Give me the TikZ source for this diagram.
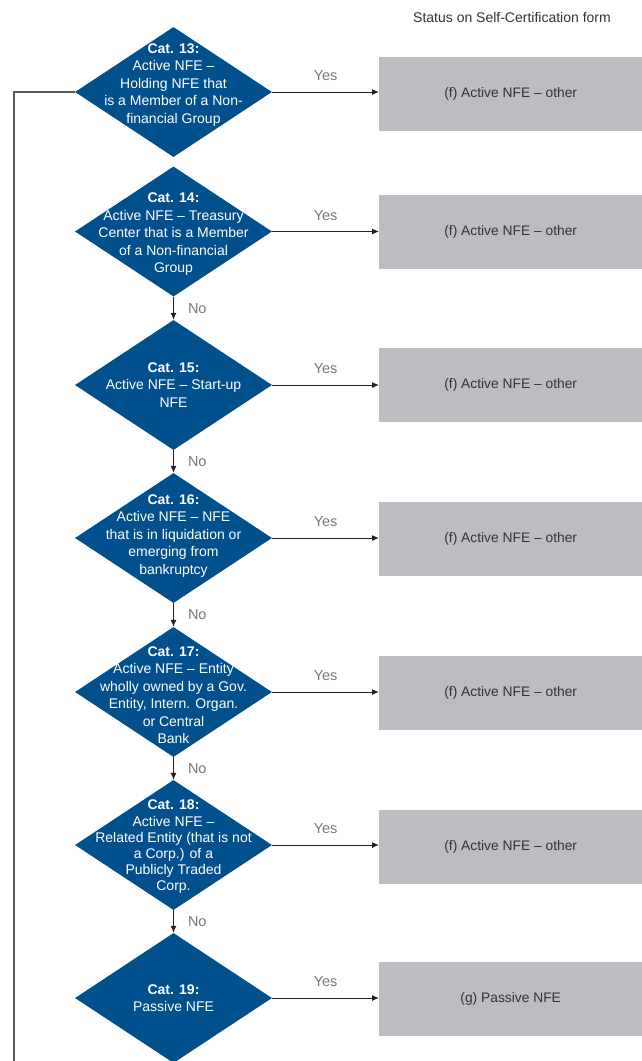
\documentclass[tikz,border=0pt]{standalone}
\usepackage{fontspec}
\setmainfont{Liberation Sans}
\usetikzlibrary{shapes.geometric,arrows.meta,calc}
\definecolor{nfeblue}{HTML}{00508E}
\definecolor{boxgray}{HTML}{BCBDC0}
\definecolor{boxtext}{HTML}{333333}
\definecolor{lblgray}{HTML}{77787B}
\definecolor{linedark}{HTML}{231F20}
\definecolor{linegray}{HTML}{58595B}
\tikzset{
  dia/.style={shape=diamond, fill=nfeblue, draw=none, minimum width=197pt, minimum height=130pt, inner sep=0pt},
  dtext/.style={text=white, align=center, font=\fontsize{14}{17.5}\selectfont, inner sep=0pt},
  outbox/.style={rectangle, fill=boxgray, draw=none, minimum width=263pt, minimum height=74pt, inner sep=0pt, anchor=west, text=boxtext, font=\fontsize{13.8}{16}\selectfont},
  lbl/.style={text=lblgray, font=\fontsize{14.5}{16}\selectfont, inner sep=0pt},
  yesarrow/.style={draw=linedark, line width=1pt, -{Latex[length=7pt,width=6pt]}},
  noarrow/.style={draw=linedark, line width=1pt, -{Latex[length=7pt,width=6pt]}},
  loopline/.style={draw=linegray, line width=1.3pt}
}
\begin{document}
\begin{tikzpicture}[x=1pt,y=-1pt]
\useasboundingbox (0,0) rectangle (642,1061);
\node[text=boxtext, font=\fontsize{14}{16}\selectfont, inner sep=0pt] (hdr) at (512,17) {Status on Self-Certification form};

% diamonds
\node[dia] (d13) at (173.5,92) {};
\node[dtext, yshift=7pt] (t13) at (d13.center) {\textbf{Cat. 13:}\\Active NFE –\\Holding NFE that\\is a Member of a Non-\\financial Group};
\node[dia] (d14) at (173.5,231.5) {};
\node[dtext, yshift=-3pt] (t14) at (d14.center) {\textbf{Cat. 14:}\\Active NFE – Treasury\\Center that is a Member\\of a Non-financial\\Group};
\node[dia] (d15) at (173.5,385) {};
\node[dtext] (t15) at (d15.center) {\textbf{Cat. 15:}\\Active NFE – Start-up\\NFE};
\node[dia] (d16) at (173.5,538) {};
\node[dtext, yshift=2pt] (t16) at (d16.center) {\textbf{Cat. 16:}\\Active NFE – NFE\\that is in liquidation or\\emerging from\\bankruptcy};
\node[dia] (d17) at (173.5,692) {};
\node[dtext, yshift=-3pt] (t17) at (d17.center) {\textbf{Cat. 17:}\\Active NFE – Entity\\wholly owned by a Gov.\\Entity, Intern. Organ.\\or Central\\Bank};
\node[dia] (d18) at (173.5,845) {};
\node[dtext, yshift=-2pt, font=\fontsize{14}{16.2}\selectfont] (t18) at (d18.center) {\textbf{Cat. 18:}\\Active NFE –\\Related Entity (that is not\\a Corp.) of a\\Publicly Traded\\Corp.};
\node[dia] (d19) at (173.5,998) {};
\node[dtext] (t19) at (d19.center) {\textbf{Cat. 19:}\\Passive NFE};

% boxes
\node[outbox] (b13) at (379,93.5) {(f) Active NFE – other};
\node[outbox] (b14) at (379,232) {(f) Active NFE – other};
\node[outbox] (b15) at (379,385) {(f) Active NFE – other};
\node[outbox] (b16) at (379,539) {(f) Active NFE – other};
\node[outbox] (b17) at (379,692.5) {(f) Active NFE – other};
\node[outbox] (b18) at (379,847) {(f) Active NFE – other};
\node[outbox] (b19) at (379,999) {(g) Passive NFE};

% yes arrows
\foreach \k in {13,14,15,16,17,18,19}{
  \draw[yesarrow] (d\k.east) -- (d\k.east -| b\k.west);
  \node[lbl] (y\k) at ($(d\k.east)!0.5!(d\k.east -| b\k.west) + (0,-16)$) {Yes};
}
% no arrows
\foreach \a/\b in {14/15,15/16,16/17,17/18,18/19}{
  \draw[noarrow] (d\a.south) -- (d\b.north) node[lbl, midway, anchor=west, xshift=14pt] (n\a) {No};
}
% loop line
\coordinate (lc) at (14,1061);
\draw[loopline] (d13.west) -- (d13.west -| lc) -- (lc);
\end{tikzpicture}
\end{document}
